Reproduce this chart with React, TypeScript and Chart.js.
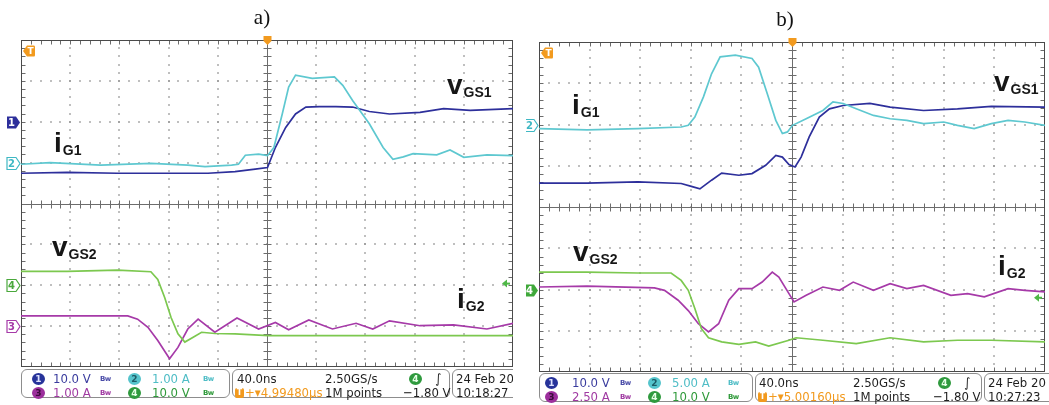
import React, { useEffect, useRef } from "react";
import { Chart, registerables } from "chart.js";

Chart.register(...registerables);

// ---------- Data (x: divisions 0..10 at 40 ns/div, y: divisions -4..+4) ----------
// Panel a)
const aIG1X = [0, 0.59, 1.62, 2.64, 3.39, 3.74, 4.28, 4.42, 4.56, 4.83, 5.01, 5.14, 5.31, 5.44, 5.58, 5.92, 6.37, 6.54, 6.74, 7.08, 7.36, 7.56, 7.77, 7.97, 8.45, 8.72, 9.0, 9.47, 10];
const aIG1Y = [0.96, 1.0, 0.94, 0.98, 0.94, 0.9, 0.94, 0.96, 1.18, 1.21, 1.17, 1.37, 2.19, 2.85, 3.14, 3.06, 3.1, 2.89, 2.52, 1.95, 1.37, 1.08, 1.14, 1.22, 1.19, 1.31, 1.13, 1.19, 1.17];
const aVGS1X = [0, 0.94, 1.96, 2.98, 3.8, 4.35, 4.76, 5.01, 5.17, 5.38, 5.58, 5.79, 6.06, 6.4, 6.74, 7.08, 7.49, 8.11, 8.59, 9.13, 10];
const aVGS1Y = [0.74, 0.76, 0.74, 0.74, 0.74, 0.78, 0.84, 0.88, 1.37, 1.86, 2.19, 2.36, 2.37, 2.37, 2.36, 2.25, 2.19, 2.23, 2.32, 2.28, 2.32];
const aVGS2X = [0, 0.94, 1.96, 2.64, 2.78, 2.92, 3.05, 3.19, 3.33, 3.5, 3.67, 3.94, 4.35, 5.03, 6.4, 10];
const aVGS2Y = [-1.66, -1.66, -1.63, -1.67, -1.86, -2.3, -2.79, -3.19, -3.39, -3.27, -3.15, -3.18, -3.19, -3.23, -3.23, -3.23];
const aIG2X = [0, 0.94, 2.17, 2.37, 2.58, 2.78, 3.02, 3.19, 3.39, 3.6, 3.94, 4.39, 4.83, 5.17, 5.44, 5.85, 6.33, 6.81, 7.15, 7.49, 8.11, 8.79, 9.47, 10];
const aIG2Y = [-2.75, -2.75, -2.75, -2.83, -3.03, -3.35, -3.8, -3.52, -3.07, -2.83, -3.15, -2.8, -3.07, -2.91, -3.09, -2.85, -3.07, -2.93, -3.07, -2.87, -2.99, -2.97, -3.07, -2.93];

// Panel b)
const bIG1X = [0, 0.95, 1.95, 2.81, 2.95, 3.08, 3.25, 3.41, 3.58, 3.88, 4.21, 4.34, 4.51, 4.68, 4.81, 4.91, 5.01, 5.28, 5.61, 5.81, 6.01, 6.27, 6.61, 6.94, 7.27, 7.6, 8.0, 8.27, 8.6, 8.94, 9.27, 9.6, 10];
const bIG1Y = [1.9, 1.87, 1.9, 1.94, 1.98, 2.18, 2.67, 3.23, 3.64, 3.68, 3.6, 3.39, 2.75, 2.1, 1.78, 1.82, 1.98, 2.14, 2.34, 2.55, 2.51, 2.38, 2.22, 2.14, 2.1, 2.02, 2.06, 1.98, 1.9, 2.02, 2.1, 2.06, 1.98];
const bVGS1X = [0, 0.95, 1.95, 2.81, 3.01, 3.18, 3.41, 3.61, 3.95, 4.21, 4.48, 4.68, 4.81, 4.94, 5.06, 5.18, 5.34, 5.54, 5.74, 6.01, 6.54, 6.94, 7.6, 8.27, 8.94, 10];
const bVGS1Y = [0.58, 0.58, 0.61, 0.57, 0.5, 0.44, 0.65, 0.82, 0.77, 0.81, 1.01, 1.25, 1.21, 1.03, 0.97, 1.21, 1.7, 2.18, 2.38, 2.46, 2.51, 2.42, 2.34, 2.38, 2.44, 2.42];
const bVGS2X = [0, 0.95, 1.95, 2.61, 2.81, 2.95, 3.08, 3.21, 3.35, 3.61, 3.95, 4.28, 4.54, 4.94, 5.08, 5.61, 6.27, 6.94, 7.6, 8.27, 8.94, 10];
const bVGS2Y = [-1.58, -1.58, -1.6, -1.6, -1.78, -2.02, -2.46, -2.95, -3.17, -3.27, -3.33, -3.27, -3.37, -3.23, -3.17, -3.23, -3.31, -3.17, -3.27, -3.23, -3.23, -3.27];
const bIG2X = [0, 0.95, 2.28, 2.48, 2.75, 2.95, 3.15, 3.35, 3.55, 3.75, 3.95, 4.21, 4.41, 4.61, 4.74, 4.94, 5.04, 5.28, 5.61, 5.94, 6.21, 6.61, 6.94, 7.27, 7.6, 8.14, 8.47, 8.8, 9.27, 9.6, 10];
const bIG2Y = [-1.94, -1.92, -1.96, -2.02, -2.26, -2.51, -2.83, -3.03, -2.83, -2.26, -1.98, -1.98, -1.82, -1.58, -1.7, -2.1, -2.3, -2.14, -1.94, -2.02, -1.82, -2.02, -1.86, -1.98, -1.9, -2.14, -2.1, -2.18, -1.98, -2.02, -2.06];

// Status readouts
const aReadout = { ch1: "10.0 V", ch2: "1.00 A", ch3: "1.00 A", ch4: "10.0 V", time: "40.0ns", rate: "2.50GS/s", delay: "4.99480µs", points: "1M points", level: "−1.80 V", date: "24 Feb 20", clock: "10:18:27" };
const bReadout = { ch1: "10.0 V", ch2: "5.00 A", ch3: "2.50 A", ch4: "10.0 V", time: "40.0ns", rate: "2.50GS/s", delay: "5.00160µs", points: "1M points", level: "−1.80 V", date: "24 Feb 20", clock: "10:27:23" };

// ---------- Styles ----------
const C_BLUE = "#2d2f9b";
const C_CYAN = "#5ec8d0";
const C_GREEN = "#7cc84f";
const C_MAG = "#a63aa8";
const C_ORANGE = "#f29a1e";

const pts = (xs: number[], ys: number[]) => xs.map((x, i) => ({ x, y: ys[i] }));

function drawTag(ctx: CanvasRenderingContext2D, xr: number, yc: number, color: string, label: string, filled: boolean) {
  const w = 13, h = 12;
  ctx.beginPath();
  ctx.moveTo(xr - w, yc - h / 2);
  ctx.lineTo(xr - 4, yc - h / 2);
  ctx.lineTo(xr, yc);
  ctx.lineTo(xr - 4, yc + h / 2);
  ctx.lineTo(xr - w, yc + h / 2);
  ctx.closePath();
  if (filled) {
    ctx.fillStyle = color;
    ctx.fill();
  } else {
    ctx.fillStyle = "#fff";
    ctx.fill();
    ctx.strokeStyle = color;
    ctx.lineWidth = 1.2;
    ctx.stroke();
  }
  ctx.fillStyle = filled ? "#fff" : color;
  ctx.font = 'bold 10px "DejaVu Sans"';
  ctx.textAlign = "center";
  ctx.textBaseline = "middle";
  ctx.fillText(label, xr - w / 2 - 2, yc + 0.5);
}

const scopePlugin = {
  id: "scope",
  beforeDatasetsDraw(chart: any) {
    const { ctx, chartArea: ca } = chart;
    const sx = chart.scales.x, sy = chart.scales.y;
    ctx.save();
    // dotted graticule
    ctx.fillStyle = "#8e8e8e";
    for (let i = 1; i < 10; i++) {
      if (i === 5) continue;
      const px = Math.round(sx.getPixelForValue(i));
      for (let k = 1; k < 40; k++) {
        const py = Math.round(sy.getPixelForValue(-4 + k * 0.2));
        ctx.fillRect(px - 0.75, py - 0.75, 1.5, 1.5);
      }
    }
    for (let j = -3; j <= 3; j++) {
      if (j === 0) continue;
      const py = Math.round(sy.getPixelForValue(j));
      for (let k = 1; k < 50; k++) {
        const px = Math.round(sx.getPixelForValue(k * 0.2));
        ctx.fillRect(px - 0.75, py - 0.75, 1.5, 1.5);
      }
    }
    // center cross + ticks
    ctx.strokeStyle = "#6c6c6c";
    ctx.lineWidth = 1;
    const cx = Math.round(sx.getPixelForValue(5)) + 0.5;
    const cy = Math.round(sy.getPixelForValue(0)) + 0.5;
    const L = ca.left + 0.5, R = ca.right - 0.5, T = ca.top + 0.5, B = ca.bottom - 0.5;
    ctx.beginPath();
    ctx.moveTo(cx, ca.top); ctx.lineTo(cx, ca.bottom);
    ctx.moveTo(ca.left, cy); ctx.lineTo(ca.right, cy);
    for (let k = 1; k < 40; k++) {
      const py = Math.round(sy.getPixelForValue(-4 + k * 0.2)) + 0.5;
      ctx.moveTo(cx - 4, py); ctx.lineTo(cx + 4, py);
      ctx.moveTo(L, py); ctx.lineTo(L + 4, py);
      ctx.moveTo(R - 4, py); ctx.lineTo(R, py);
    }
    for (let k = 1; k < 50; k++) {
      const px = Math.round(sx.getPixelForValue(k * 0.2)) + 0.5;
      ctx.moveTo(px, cy - 4); ctx.lineTo(px, cy + 4);
      ctx.moveTo(px, T); ctx.lineTo(px, T + 4);
      ctx.moveTo(px, B - 4); ctx.lineTo(px, B);
    }
    ctx.stroke();
    ctx.strokeStyle = "#4a4a4a";
    ctx.strokeRect(L, T, R - L, B - T);
    ctx.restore();
  },
  afterDatasetsDraw(chart: any, _args: any, opts: any) {
    const { ctx, chartArea: ca } = chart;
    const sy = chart.scales.y, sx = chart.scales.x;
    ctx.save();
    for (const m of opts.markers || []) {
      drawTag(ctx, ca.left - 1, Math.round(sy.getPixelForValue(m.v)) + 0.5, m.color, m.ch, m.filled);
    }
    // trigger "T" tag at top-left
    const ty = ca.top + 11;
    const tl = ca.left + 2;
    ctx.beginPath();
    ctx.moveTo(tl, ty);
    ctx.lineTo(tl + 4, ty - 5.5);
    ctx.lineTo(tl + 11, ty - 5.5);
    ctx.quadraticCurveTo(tl + 12, ty - 5.5, tl + 12, ty - 4);
    ctx.lineTo(tl + 12, ty + 4);
    ctx.quadraticCurveTo(tl + 12, ty + 5.5, tl + 11, ty + 5.5);
    ctx.lineTo(tl + 4, ty + 5.5);
    ctx.closePath();
    ctx.fillStyle = C_ORANGE;
    ctx.fill();
    ctx.fillStyle = "#fff";
    ctx.font = 'bold 9px "DejaVu Sans"';
    ctx.textAlign = "center";
    ctx.textBaseline = "middle";
    ctx.fillText("T", tl + 7.5, ty + 0.5);
    // trigger position marker at top center
    const cx = sx.getPixelForValue(5) + 0.5;
    ctx.beginPath();
    ctx.moveTo(cx - 4, ca.top - 4);
    ctx.lineTo(cx + 4, ca.top - 4);
    ctx.lineTo(cx + 4, ca.top + 1);
    ctx.lineTo(cx, ca.top + 5);
    ctx.lineTo(cx - 4, ca.top + 1);
    ctx.closePath();
    ctx.fillStyle = C_ORANGE;
    ctx.fill();
    // trigger level arrow at right
    if (opts.level !== undefined) {
      const ly = sy.getPixelForValue(opts.level);
      const r = ca.right - 3;
      ctx.beginPath();
      ctx.moveTo(r - 8, ly);
      ctx.lineTo(r - 3, ly - 4);
      ctx.lineTo(r - 3, ly + 4);
      ctx.closePath();
      ctx.fillStyle = "#4fb847";
      ctx.fill();
      ctx.fillRect(r - 4, ly - 1, 4, 2);
    }
    ctx.restore();
  },
};

type Panel = {
  left: number; width: number; pad: { left: number; right: number; top: number; bottom: number };
  series: { x: number[]; y: number[]; color: string }[];
  markers: { ch: string; v: number; color: string; filled: boolean }[];
  level: number;
};

function ScopeChart({ p }: { p: Panel }) {
  const ref = useRef<HTMLCanvasElement>(null);
  useEffect(() => {
    const chart = new Chart(ref.current as HTMLCanvasElement, {
      type: "line",
      data: {
        datasets: p.series.map((s) => ({
          data: pts(s.x, s.y),
          borderColor: s.color,
          borderWidth: 1.7,
          pointRadius: 0,
          tension: 0,
          fill: false,
        })),
      },
      options: {
        responsive: false,
        animation: false,
        devicePixelRatio: 1,
        events: [],
        layout: { padding: p.pad },
        plugins: {
          legend: { display: false },
          tooltip: { enabled: false },
          // @ts-ignore
          scope: { markers: p.markers, level: p.level },
        },
        scales: {
          x: { type: "linear", min: 0, max: 10, display: false },
          y: { type: "linear", min: -4, max: 4, display: false },
        },
      },
      plugins: [scopePlugin as any],
    });
    return () => chart.destroy();
  }, []);
  return (
    <canvas
      ref={ref}
      width={p.width}
      height={405}
      style={{ position: "absolute", left: p.left, top: 0, width: p.width, height: 405 }}
    />
  );
}

const panelA: Panel = {
  left: 0, width: 526,
  pad: { left: 21, right: 13, top: 40, bottom: 38 },
  series: [
    { x: aVGS2X, y: aVGS2Y, color: C_GREEN },
    { x: aIG2X, y: aIG2Y, color: C_MAG },
    { x: aIG1X, y: aIG1Y, color: C_CYAN },
    { x: aVGS1X, y: aVGS1Y, color: C_BLUE },
  ],
  markers: [
    { ch: "1", v: 2, color: C_BLUE, filled: true },
    { ch: "2", v: 1, color: "#3fb8c4", filled: false },
    { ch: "4", v: -2, color: "#4aa83c", filled: false },
    { ch: "3", v: -3, color: C_MAG, filled: false },
  ],
  level: -1.96,
};

const panelB: Panel = {
  left: 526, width: 523,
  pad: { left: 13, right: 4, top: 42, bottom: 33 },
  series: [
    { x: bVGS2X, y: bVGS2Y, color: C_GREEN },
    { x: bIG2X, y: bIG2Y, color: C_MAG },
    { x: bIG1X, y: bIG1Y, color: C_CYAN },
    { x: bVGS1X, y: bVGS1Y, color: C_BLUE },
  ],
  markers: [
    { ch: "2", v: 2, color: "#3fb8c4", filled: false },
    { ch: "4", v: -2, color: "#3fa83a", filled: true },
  ],
  level: -2.2,
};

function Lbl({ x, base, main, sub }: { x: number; base: number; main: string; sub: string }) {
  const fs = 28;
  return (
    <div
      style={{
        position: "absolute", left: x, top: base - fs * 0.8465, display: "flex", alignItems: "baseline",
        fontFamily: '"Liberation Sans", Arial, sans-serif', fontWeight: "bold", color: "#161616",
        lineHeight: 1, whiteSpace: "nowrap",
      }}
    >
      <span style={{ fontSize: fs }}>{main}</span>
      <span style={{ fontSize: 14, position: "relative", top: 3, marginLeft: 1 }}>{sub}</span>
    </div>
  );
}

const SFONT = '"Liberation Sans Narrow", "DejaVu Sans Condensed", "Roboto", sans-serif';

function Txt({ x, y, color, children, size = 13 }: any) {
  return (
    <div style={{ position: "absolute", left: x, top: y - 8, height: 16, lineHeight: "16px", fontSize: size, fontFamily: SFONT, color, whiteSpace: "nowrap" }}>
      {children}
    </div>
  );
}

function Dot({ x, y, bg, fg, d }: any) {
  return (
    <div style={{ position: "absolute", left: x, top: y - 6, width: 13, height: 12, borderRadius: "50%", background: bg, color: fg, fontSize: 9, fontWeight: "bold", fontFamily: '"DejaVu Sans", sans-serif', textAlign: "center", lineHeight: "12px" }}>
      {d}
    </div>
  );
}

function Bw({ x, y, color }: any) {
  return (
    <div style={{ position: "absolute", left: x, top: y - 5, fontSize: 7, lineHeight: "10px", fontWeight: "bold", fontFamily: '"DejaVu Sans", sans-serif', color, letterSpacing: -0.5 }}>
      Bw
    </div>
  );
}

type SB = {
  left: number; top: number; width: number; boxes: [number, number][];
  r1: number; r2: number;
  cols: { d1: number; t1: number; b1: number; d2: number; t2: number; b2: number; time: number; rate: number; d4: number; slope: number; tIcon: number; delay: number; lvl: number; date: number };
  ro: typeof aReadout;
};

function StatusBar({ s }: { s: SB }) {
  const X = (v: number) => v - s.left;
  const c = s.cols;
  const r1 = s.r1, r2 = s.r2;
  return (
    <div style={{ position: "absolute", left: s.left, top: s.top, width: s.width, height: 33, overflow: "hidden" }}>
      {s.boxes.map(([a, b], i) => (
        <div key={i} style={{ position: "absolute", left: X(a), top: 1, width: b - a, height: 29, border: "1.5px solid #8d8d8d", borderRadius: 6, boxSizing: "border-box", background: "#fff" }} />
      ))}
      <Dot x={X(c.d1)} y={r1} bg="#27339a" fg="#dfe3ff" d="1" />
      <Txt x={X(c.t1)} y={r1} color="#3a3c9e">{s.ro.ch1}</Txt>
      <Bw x={X(c.b1)} y={r1} color="#4a4ca8" />
      <Dot x={X(c.d2)} y={r1} bg="#55c4cc" fg="#1d5c66" d="2" />
      <Txt x={X(c.t2)} y={r1} color="#4fbdc6">{s.ro.ch2}</Txt>
      <Bw x={X(c.b2)} y={r1} color="#4fbdc6" />
      <Dot x={X(c.d1)} y={r2} bg="#9c2f9c" fg="#3a0a3a" d="3" />
      <Txt x={X(c.t1)} y={r2} color="#a03aa2">{s.ro.ch3}</Txt>
      <Bw x={X(c.b1)} y={r2} color="#a03aa2" />
      <Dot x={X(c.d2)} y={r2} bg="#2f9a3e" fg="#e8ffe8" d="4" />
      <Txt x={X(c.t2)} y={r2} color="#2f9a3a">{s.ro.ch4}</Txt>
      <Bw x={X(c.b2)} y={r2} color="#2f9a3a" />

      <Txt x={X(c.time)} y={r1} color="#1e1e1e">{s.ro.time}</Txt>
      <Txt x={X(c.rate)} y={r1} color="#1e1e1e">{s.ro.rate}</Txt>
      <Dot x={X(c.d4)} y={r1} bg="#2f9a3e" fg="#e8ffe8" d="4" />
      <Txt x={X(c.slope)} y={r1} color="#1e1e1e">∫</Txt>
      <div style={{ position: "absolute", left: X(c.tIcon), top: r2 - 5, width: 9, height: 10, borderRadius: 2, background: C_ORANGE, color: "#fff", fontSize: 8, fontWeight: "bold", fontFamily: '"DejaVu Sans", sans-serif', textAlign: "center", lineHeight: "10px" }}>T</div>
      <Txt x={X(c.tIcon + 10)} y={r2} color={C_ORANGE}>{"+▾" + s.ro.delay}</Txt>
      <Txt x={X(c.rate)} y={r2} color="#1e1e1e">{s.ro.points}</Txt>
      <Txt x={X(c.lvl)} y={r2} color="#1e1e1e">{s.ro.level}</Txt>
      <Txt x={X(c.date)} y={r1} color="#1e1e1e">{s.ro.date}</Txt>
      <Txt x={X(c.date)} y={r2} color="#1e1e1e">{s.ro.clock}</Txt>
    </div>
  );
}

const sbA: SB = {
  left: 21, top: 368, width: 492, boxes: [[21, 230], [232, 450], [452, 540]], r1: 11, r2: 25,
  cols: { d1: 32, t1: 53, b1: 100, d2: 128, t2: 152, b2: 203, time: 237, rate: 325, d4: 409, slope: 435, tIcon: 235, delay: 246, lvl: 403, date: 456 },
  ro: aReadout,
};
const sbB: SB = {
  left: 539, top: 372, width: 510, boxes: [[539, 753], [755, 982], [984, 1080]], r1: 11, r2: 25,
  cols: { d1: 545, t1: 572, b1: 620, d2: 648, t2: 672, b2: 728, time: 759, rate: 853, d4: 938, slope: 964, tIcon: 758, delay: 769, lvl: 933, date: 988 },
  ro: bReadout,
};

export default function App() {
  return (
    <div style={{ position: "absolute", left: 0, top: 0, width: 1049, height: 405, background: "#fff", overflow: "hidden" }}>
      <ScopeChart p={panelA} />
      <ScopeChart p={panelB} />
      <div style={{ position: "absolute", left: 240, top: 7, width: 44, textAlign: "center", fontFamily: '"Liberation Serif", "Times New Roman", serif', fontSize: 21, lineHeight: 1, color: "#111" }}>a)</div>
      <div style={{ position: "absolute", left: 763, top: 9, width: 44, textAlign: "center", fontFamily: '"Liberation Serif", "Times New Roman", serif', fontSize: 21, lineHeight: 1, color: "#111" }}>b)</div>

      <Lbl x={54} base={153} main="i" sub="G1" />
      <Lbl x={447} base={95} main="v" sub="GS1" />
      <Lbl x={52} base={257} main="v" sub="GS2" />
      <Lbl x={457} base={309} main="i" sub="G2" />

      <Lbl x={572} base={115} main="i" sub="G1" />
      <Lbl x={994} base={92} main="v" sub="GS1" />
      <Lbl x={573} base={262} main="v" sub="GS2" />
      <Lbl x={998} base={276} main="i" sub="G2" />

      <StatusBar s={sbA} />
      <StatusBar s={sbB} />
    </div>
  );
}
